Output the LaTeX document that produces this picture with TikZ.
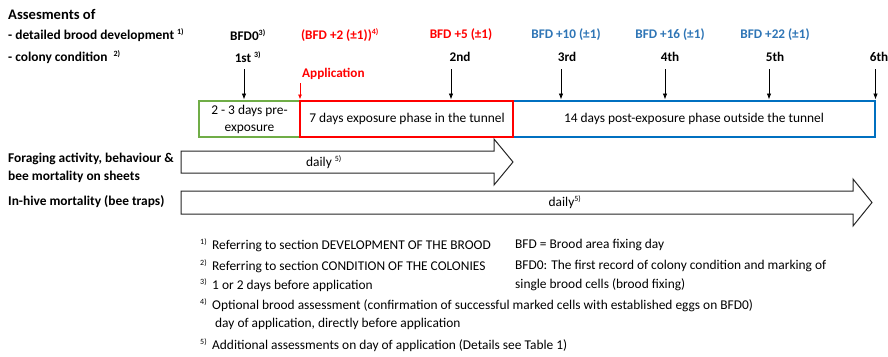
\documentclass[tikz,border=0pt]{standalone}
\usepackage{fontspec}
\setmainfont{Carlito}
\usetikzlibrary{arrows.meta}
\definecolor{appred}{RGB}{255,0,0}
\definecolor{postblue}{RGB}{0,112,192}
\definecolor{bluetext}{RGB}{46,117,182}
\definecolor{pregreen}{RGB}{112,173,71}
\newcommand{\fn}[1]{\textsuperscript{\footnotesize #1)}}
\newcommand{\fnlead}[1]{\fn{#1}\hspace{5pt}}
\tikzset{
  base/.style={font=\fontsize{13.4}{15}\selectfont, inner sep=0pt},
  lefthead/.style={base, font=\fontsize{13.4}{18}\selectfont\bfseries, anchor=west, align=left},
  daylabel/.style={base, font=\fontsize{13.2}{15}\selectfont\bfseries},
  phase/.style={base, align=center, font=\fontsize{13.4}{17}\selectfont},
  note/.style={base, anchor=west, align=left},
  tick/.style={-{Latex[length=6pt,width=4.5pt]}, line width=0.8pt},
  blockarrow/.style={draw=black!85, line width=1pt, fill=white},
}
\begin{document}
\begin{tikzpicture}[x=1pt,y=-1pt]
\useasboundingbox[fill=white] (0,0) rectangle (888,356);

% heading on the left
\node[lefthead, font=\fontsize{14.6}{18}\selectfont\bfseries] (head) at (8,14) {Assesments of};
\node[lefthead] (brood) at (8,35) {- detailed brood development \fn{1}};
\node[lefthead] (cond) at (8,57) {- colony condition \ \fn{2}};

% assessment days
\node[daylabel] (d0) at (248,35) {BFD0\fn{3}};
\node[daylabel] (n1) at (248,57) {1st \fn{3}};
\node[daylabel, text=appred] (d2) at (340,35) {(BFD +2 (±1))\fn{4}};
\node[daylabel, text=appred] (d5) at (461,35) {BFD +5 (±1)};
\node[daylabel] (n2) at (460,57) {2nd};
\node[daylabel, text=bluetext] (d10) at (566,35) {BFD +10 (±1)};
\node[daylabel] (n3) at (567,57) {3rd};
\node[daylabel, text=bluetext] (d16) at (670,35) {BFD +16 (±1)};
\node[daylabel] (n4) at (670,57) {4th};
\node[daylabel, text=bluetext] (d22) at (775,35) {BFD +22 (±1)};
\node[daylabel] (n5) at (775,57) {5th};
\node[daylabel] (n6) at (879,57) {6th};
\node[daylabel, text=appred, anchor=west] (app) at (302,74) {Application};

% phase boxes
\draw[pregreen, line width=1.5pt] (199,101) rectangle (300,137);
\node[phase] (pre) at (249.5,119) {2 - 3 days pre-\\exposure};
\draw[postblue, line width=1.5pt] (513,101) rectangle (875,137);
\node[phase] (post) at (694,119) {14 days post-exposure phase outside the tunnel};
\draw[appred, line width=2pt] (300,101) rectangle (513,137);
\node[phase] (expo) at (407,119) {7 days exposure phase in the tunnel};

% assessment markers
\coordinate (a1) at (244,69);
\coordinate (a2) at (451,69);
\coordinate (a3) at (561,69);
\coordinate (a4) at (665,69);
\coordinate (a5) at (769,69);
\coordinate (a6) at (875.5,69);
\foreach \a in {a1,a2,a3,a4,a5,a6}
  \draw[tick] (\a) -- ++(0,30.5);
\coordinate (appx) at (300,83);
\draw[appred, line width=0.8pt, -{Latex[length=5pt,width=4pt]}] (appx) -- ++(0,16.5);

% observation periods
\node[lefthead] (forag) at (8,167.5) {Foraging activity, behaviour \&\\bee mortality on sheets};
\draw[blockarrow] (181,151) -- (494,151) -- (494,139) -- (513,162) -- (494,185)
  -- (494,173) -- (181,173) -- cycle;
\node[base] (daily1) at (324,162) {daily \fn{5}};

\node[lefthead] (hive) at (8,202) {In-hive mortality (bee traps)};
\draw[blockarrow] (181,191) -- (853,191) -- (853,179) -- (872,202.5) -- (853,226)
  -- (853,214) -- (181,214) -- cycle;
\node[base] (daily2) at (565,202) {daily\fn{5}};

% footnotes
\node[note] (f1) at (200,245) {\fnlead{1}Referring to section DEVELOPMENT OF THE BROOD};
\node[note] (f2) at (200,266) {\fnlead{2}Referring to section CONDITION OF THE COLONIES};
\node[note] (f3) at (200,285) {\fnlead{3}1 or 2 days before application};
\node[note] (f4) at (200,305) {\fnlead{4}Optional brood assessment (confirmation of successful marked cells with established eggs on BFD0)};
\node[note] (f4b) at (215,324) {day of application, directly before application};
\node[note] (f5) at (200,345) {\fnlead{5}Additional assessments on day of application (Details see Table 1)};
\node[note] (g1) at (515,245) {BFD = Brood area fixing day};
\node[note, font=\fontsize{13.4}{19}\selectfont] (g2) at (515,275.5) {BFD0: The first record of colony condition and marking of\\single brood cells (brood fixing)};
\end{tikzpicture}
\end{document}
